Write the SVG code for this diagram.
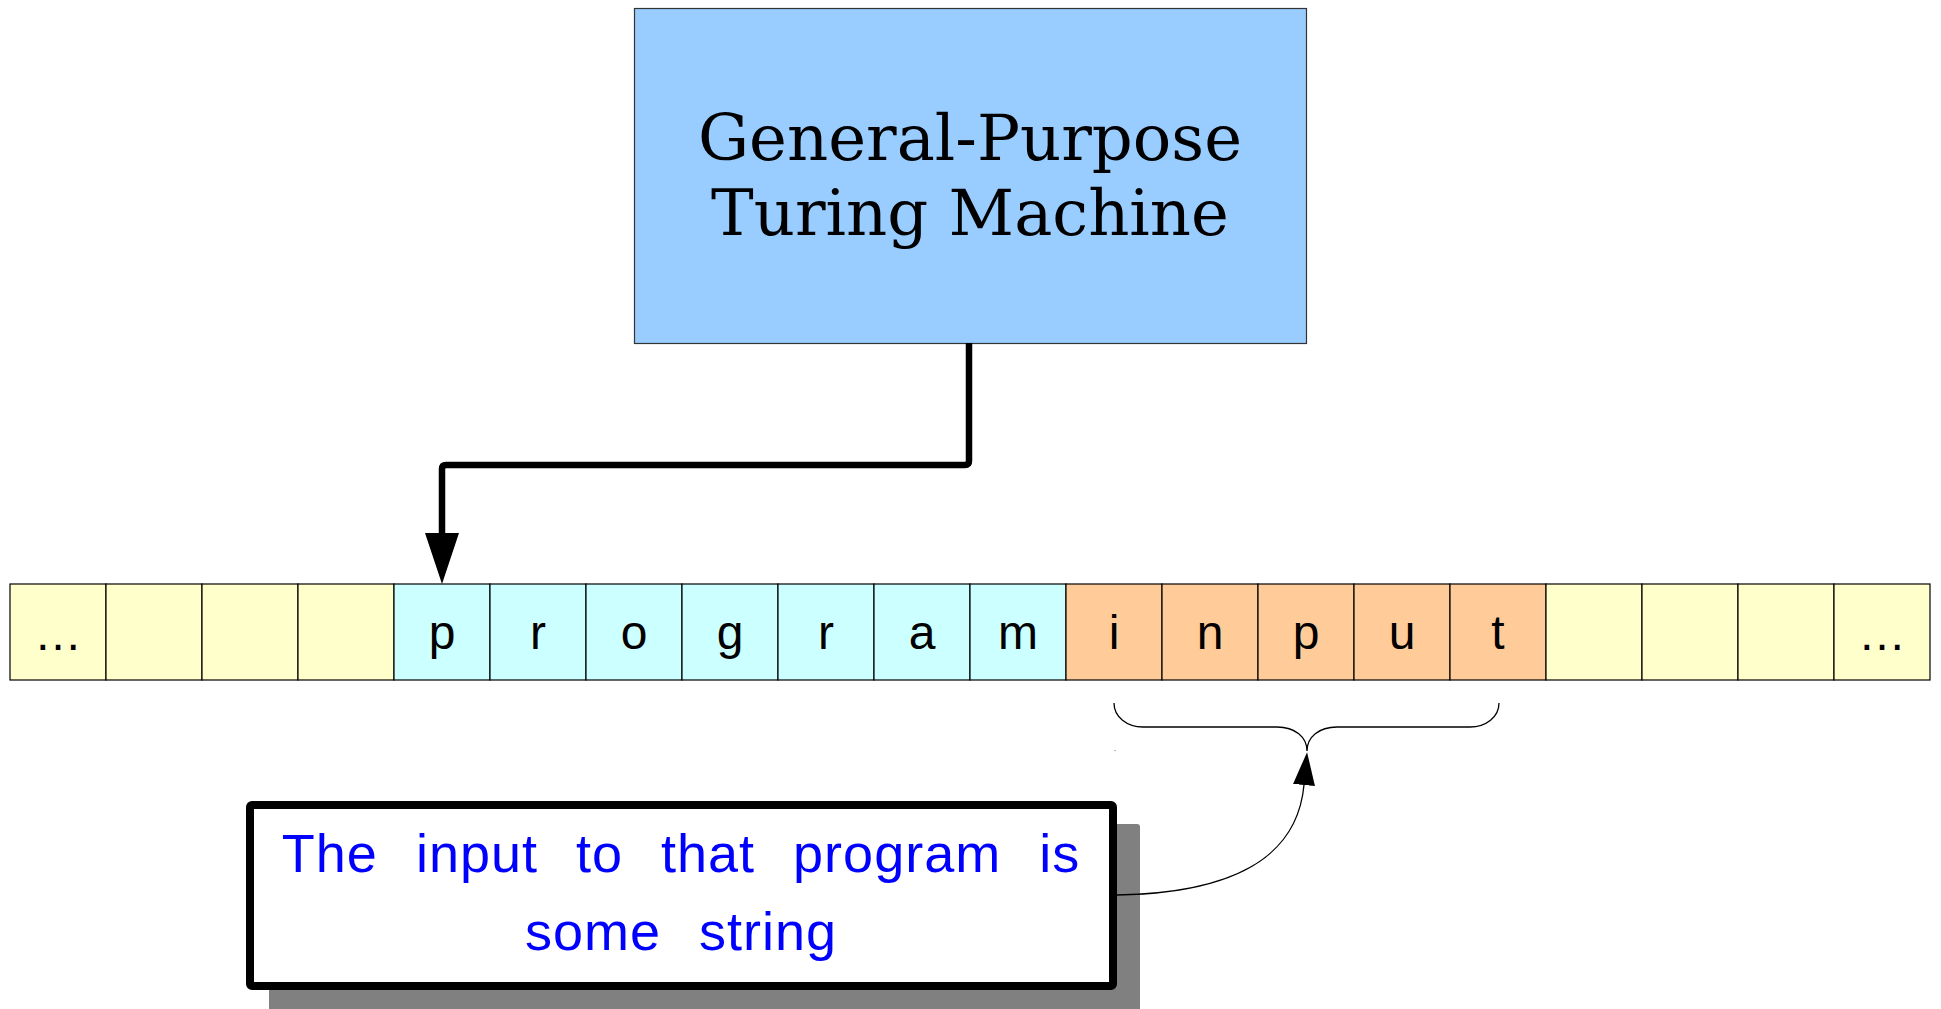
<svg xmlns="http://www.w3.org/2000/svg" width="1941" height="1009" viewBox="0 0 1941 1009">
<style>
.cell{stroke:#000;stroke-width:1.2}
.y{fill:#ffffcc}.c{fill:#ccffff}.o{fill:#ffcc99}
.lt{font-family:"Liberation Sans",Arial,sans-serif;font-size:48px;fill:#000;text-anchor:middle}
.tm{font-family:"DejaVu Serif",serif;font-size:64px;fill:#000;text-anchor:middle}
.note{font-family:"Liberation Sans",Arial,sans-serif;font-size:54px;fill:#0000ff;text-anchor:middle;word-spacing:22px;letter-spacing:1px}
</style>
<defs>
<marker id="bigHead" markerUnits="userSpaceOnUse" viewBox="0 0 51 34" markerWidth="51" markerHeight="34" refX="0" refY="17" orient="auto"><path d="M0,0 L51,17 L0,34 z" fill="#000"/></marker>
<marker id="smallHead" markerUnits="userSpaceOnUse" viewBox="0 0 33 22" markerWidth="33" markerHeight="22" refX="0" refY="11" orient="auto"><path d="M0,0 L33,11 L0,22 z" fill="#000"/></marker>
</defs>
<rect width="1941" height="1009" fill="#fff"/>
<g id="machine">
<rect x="634.5" y="8.5" width="672" height="335" fill="#99ccff" stroke="#333" stroke-width="1.2"/>
<text class="tm" x="970" y="160">General-Purpose</text>
<text class="tm" x="970" y="235">Turing Machine</text>
</g>
<g id="tape">
<rect class="cell y" x="10" y="584" width="96" height="96"/>
<rect class="cell y" x="106" y="584" width="96" height="96"/>
<rect class="cell y" x="202" y="584" width="96" height="96"/>
<rect class="cell y" x="298" y="584" width="96" height="96"/>
<rect class="cell c" x="394" y="584" width="96" height="96"/>
<rect class="cell c" x="490" y="584" width="96" height="96"/>
<rect class="cell c" x="586" y="584" width="96" height="96"/>
<rect class="cell c" x="682" y="584" width="96" height="96"/>
<rect class="cell c" x="778" y="584" width="96" height="96"/>
<rect class="cell c" x="874" y="584" width="96" height="96"/>
<rect class="cell c" x="970" y="584" width="96" height="96"/>
<rect class="cell o" x="1066" y="584" width="96" height="96"/>
<rect class="cell o" x="1162" y="584" width="96" height="96"/>
<rect class="cell o" x="1258" y="584" width="96" height="96"/>
<rect class="cell o" x="1354" y="584" width="96" height="96"/>
<rect class="cell o" x="1450" y="584" width="96" height="96"/>
<rect class="cell y" x="1546" y="584" width="96" height="96"/>
<rect class="cell y" x="1642" y="584" width="96" height="96"/>
<rect class="cell y" x="1738" y="584" width="96" height="96"/>
<rect class="cell y" x="1834" y="584" width="96" height="96"/>
<text class="lt" x="58" y="650">…</text>
<text class="lt" x="442" y="649">p</text>
<text class="lt" x="538" y="649">r</text>
<text class="lt" x="634" y="649">o</text>
<text class="lt" x="730" y="649">g</text>
<text class="lt" x="826" y="649">r</text>
<text class="lt" x="922" y="649">a</text>
<text class="lt" x="1018" y="649">m</text>
<text class="lt" x="1114" y="649">i</text>
<text class="lt" x="1210" y="649">n</text>
<text class="lt" x="1306" y="649">p</text>
<text class="lt" x="1402" y="649">u</text>
<text class="lt" x="1498" y="649">t</text>
<text class="lt" x="1882" y="650">…</text>
</g>
<g id="brace">
<path d="M1114,703 C1114,717 1127,727 1143,727 L1277,727 C1295,727 1307,737 1307,751 C1307,737 1319,727 1337,727 L1470,727 C1486,727 1499,717 1499,703" fill="none" stroke="#000" stroke-width="1.3"/>
<rect x="1114.5" y="750" width="1.2" height="1.2" fill="#999"/>
</g>
<g id="note">
<rect x="269" y="824" width="871" height="189" rx="3" fill="#808080"/>
<rect x="250" y="805" width="863" height="181" rx="2" fill="#fff" stroke="#000" stroke-width="8"/>
<text class="note" x="681" y="872">The input to that program is</text>
<text class="note" x="681" y="950">some string</text>
</g>
<g id="connectors">
<path d="M969,343 L969,461 Q969,465 965,465 L446,465 Q442,465 442,469 L442,533" fill="none" stroke="#000" stroke-width="6.5" marker-end="url(#bigHead)"/>
<path d="M1117,895 C1230,893 1297,860 1304,785" fill="none" stroke="#000" stroke-width="1.3" marker-end="url(#smallHead)"/>
</g>
</svg>
